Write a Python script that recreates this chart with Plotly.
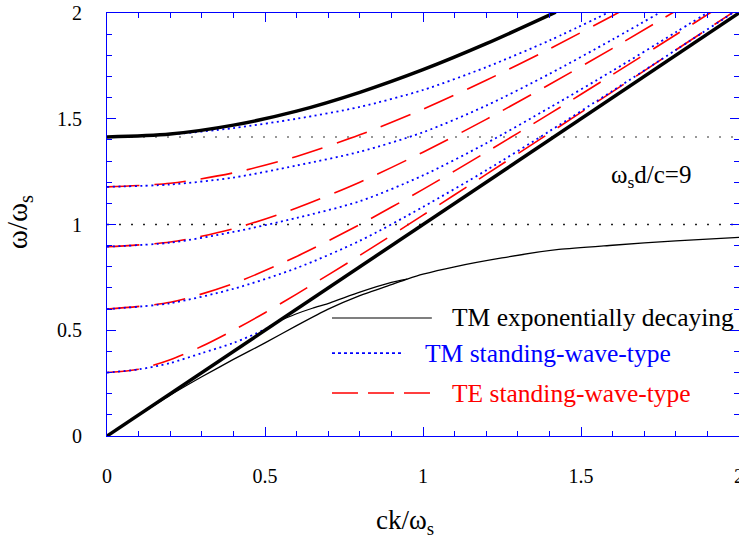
import plotly.graph_objects as go

# ---------------- data ----------------
grid_x = [0, 0.2, 0.4, 0.6, 0.8, 1.0, 1.2, 1.4, 1.6, 1.8, 2.0]

# light line and bulk-plasmon line (thick black)
light_x = [0, 2]
light_y = [0, 2]
bulk_x = [0, 0.2, 0.4, 0.6, 0.8, 1.0, 1.2, 1.42]
bulk_y = [1.414, 1.428, 1.470, 1.536, 1.625, 1.732, 1.855, 2.004]

# TM exponentially decaying (thin black) - two branches
tm_low_x = [0, 0.1, 0.2, 0.3, 0.4, 0.5, 0.6, 0.7, 0.8, 0.9, 0.95, 1.0, 1.1, 1.25, 1.43, 1.6, 1.8, 2.0]
tm_low_y = [0, 0.098, 0.193, 0.280, 0.362, 0.440, 0.522, 0.600, 0.664, 0.716, 0.742, 0.765, 0.800, 0.842, 0.882, 0.902, 0.923, 0.939]
tm_up_x = [0.557, 0.6, 0.65, 0.706, 0.8, 0.9, 0.95]
tm_up_y = [0.552, 0.578, 0.604, 0.630, 0.680, 0.726, 0.742]

# TM standing-wave-type (blue dotted)
tm1_y = [1.414, 1.426, 1.456, 1.500, 1.556, 1.636, 1.744, 1.870, 2.012]
tm2_y = [1.178, 1.189, 1.222, 1.279, 1.344, 1.436, 1.562, 1.712, 1.875, 2.045]
tm3_y = [0.895, 0.914, 0.965, 1.031, 1.110, 1.232, 1.384, 1.552, 1.727, 1.909, 2.094]
tm4_y = [0.600, 0.628, 0.696, 0.794, 0.923, 1.083, 1.256, 1.441, 1.632, 1.825, 2.020]
tm5_x = [0, 0.1, 0.2, 0.3, 0.4, 0.5, 0.557]
tm5_y = [0.300, 0.315, 0.345, 0.392, 0.440, 0.505, 0.557]

# TE standing-wave-type (red dashed)
te1_y = [1.178, 1.195, 1.244, 1.322, 1.424, 1.545, 1.682, 1.830, 1.987, 2.151]
te2_y = [0.895, 0.917, 0.980, 1.078, 1.200, 1.342, 1.497, 1.662, 1.833, 2.010]
te3_y = [0.600, 0.632, 0.721, 0.849, 1.000, 1.166, 1.342, 1.523, 1.709, 1.897, 2.088]
te4_x = [0, 0.1, 0.2, 0.3, 0.4, 0.5, 0.6, 0.8, 1.0, 1.2, 1.4, 1.6, 1.8, 2.0]
te4_y = [0.300, 0.316, 0.361, 0.424, 0.500, 0.583, 0.671, 0.854, 1.044, 1.237, 1.432, 1.628, 1.825, 2.022]

# horizontal reference levels
hline_y = [1.414, 1.0]
hline_colors = ["#777777", "#222222"]

tick_vals = [0, 0.5, 1, 1.5, 2]
tick_text = ["0", "0.5", "1", "1.5", "2"]

legend_labels = ["TM exponentially decaying", "TM standing-wave-type", "TE standing-wave-type"]
FONT = "Liberation Serif, Times New Roman, serif"
BLUE = "#0000ff"
RED = "#ff0000"

fig = go.Figure()

for yv, col in zip(hline_y, hline_colors):
    fig.add_trace(go.Scatter(x=[0, 2], y=[yv, yv], mode="lines",
                             line=dict(color=col, width=1.5, dash="2px,10px"),
                             hoverinfo="skip"))

red_dash = dict(color=RED, width=1.6, dash="32px,15px", shape="spline", smoothing=0.8)
for ys in [te1_y, te2_y, te3_y]:
    fig.add_trace(go.Scatter(x=grid_x[:len(ys)], y=ys, mode="lines", line=red_dash))
fig.add_trace(go.Scatter(x=te4_x, y=te4_y, mode="lines", line=red_dash))

blue_dot = dict(color=BLUE, width=1.8, dash="2px,3.5px", shape="spline", smoothing=0.8)
for ys in [tm1_y, tm2_y, tm3_y, tm4_y]:
    fig.add_trace(go.Scatter(x=grid_x[:len(ys)], y=ys, mode="lines", line=blue_dot))
fig.add_trace(go.Scatter(x=tm5_x, y=tm5_y, mode="lines", line=blue_dot))

thin = dict(color="black", width=1.3, shape="spline", smoothing=0.6)
fig.add_trace(go.Scatter(x=tm_low_x, y=tm_low_y, mode="lines", line=thin))
fig.add_trace(go.Scatter(x=tm_up_x, y=tm_up_y, mode="lines", line=thin))

thick = dict(color="black", width=3.5, shape="spline", smoothing=0.8)
fig.add_trace(go.Scatter(x=light_x, y=light_y, mode="lines", line=dict(color="black", width=3.5)))
fig.add_trace(go.Scatter(x=bulk_x, y=bulk_y, mode="lines", line=thick))

# ---- legend drawn by hand (sample lines + coloured texts) ----
leg_y = [0.558, 0.392, 0.203]
leg_x0 = 0.712
leg_x1 = [1.028, 0.940, 1.028]
leg_styles = [dict(color="black", width=1.2),
              dict(color=BLUE, width=1.8, dash="dot"),
              dict(color=RED, width=1.6, dash="26px,10px")]
leg_text_x = [1.085, 1.0, 1.085]
leg_colors = ["black", BLUE, RED]
shapes = []
annotations = []
for i in range(3):
    shapes.append(dict(type="line", xref="x", yref="y", x0=leg_x0, x1=leg_x1[i],
                       y0=leg_y[i], y1=leg_y[i], line=leg_styles[i]))
    annotations.append(dict(x=leg_text_x[i], y=leg_y[i], xref="x", yref="y",
                            text=legend_labels[i], showarrow=False, xanchor="left",
                            yanchor="middle",
                            font=dict(family=FONT, size=25.5, color=leg_colors[i])))

# y-axis tick labels, placed further from the axis than plotly allows
for v, t in zip(tick_vals, tick_text):
    annotations.append(dict(x=-0.036, y=v, xref="paper", yref="y", text=t,
                            showarrow=False, xanchor="right", yanchor="middle",
                            font=dict(family=FONT, size=20, color="black")))

annotations.append(dict(x=1.72, y=1.225, xref="x", yref="y", text="ω<sub>s</sub>d/c=9",
                        showarrow=False, xanchor="center", yanchor="middle",
                        font=dict(family=FONT, size=25, color="black")))
annotations.append(dict(x=0.4715, y=-0.203, xref="paper", yref="paper", text="ck/ω<sub>s</sub>",
                        showarrow=False, xanchor="center", yanchor="middle",
                        font=dict(family=FONT, size=27, color="black")))
annotations.append(dict(x=-0.138, y=0.505, xref="paper", yref="paper", text="ω/ω<sub>s</sub>",
                        textangle=-90, showarrow=False, xanchor="center", yanchor="middle",
                        font=dict(family=FONT, size=29, color="black")))

axis_common = dict(
    showgrid=False, zeroline=False, showline=True, linecolor=BLUE, linewidth=1,
    mirror="allticks", ticks="inside", ticklen=9, tickcolor=BLUE, tickwidth=1,
    tickvals=tick_vals, ticktext=tick_text, automargin=False, ticklabeloverflow="allow",
    tickfont=dict(family=FONT, size=20, color="black"),
    minor=dict(dtick=0.1, ticks="inside", ticklen=5, tickcolor=BLUE, tickwidth=1),
)

fig.update_layout(
    width=739, height=539,
    margin=dict(l=107, r=0, t=13, b=103),
    paper_bgcolor="white", plot_bgcolor="white",
    showlegend=False,
    xaxis=dict(range=[0, 2], ticklabelstandoff=22, **axis_common),
    yaxis=dict(range=[0, 2], showticklabels=False, **axis_common),
    shapes=shapes, annotations=annotations,
)

# remove the default page margin so the figure fills the window exactly
fig.write_html(
    "out.html",
    config={"displayModeBar": False},
    post_script="document.body.style.margin='0px';"
                "document.documentElement.style.overflow='hidden';",
)
